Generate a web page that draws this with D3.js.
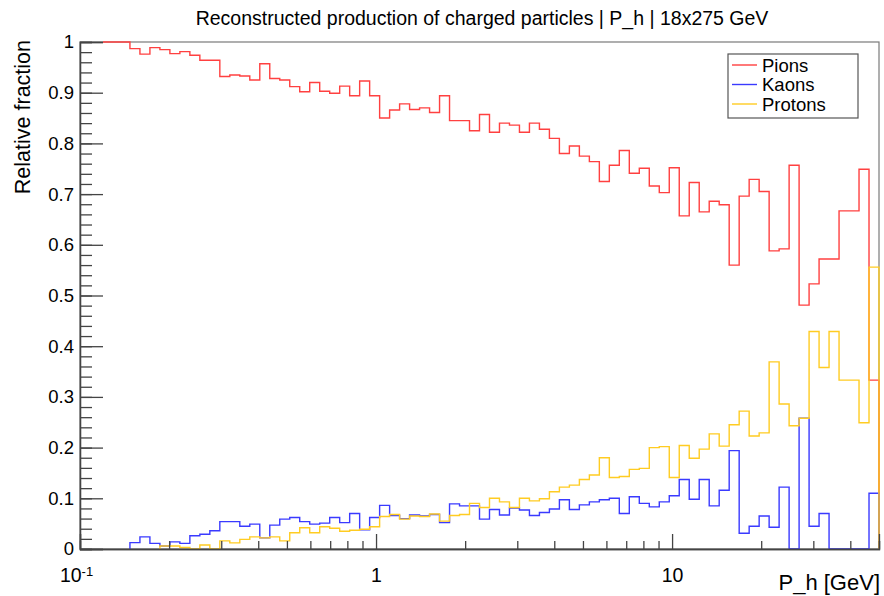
<!DOCTYPE html>
<html>
<head>
<meta charset="utf-8">
<script src="https://cdn.jsdelivr.net/npm/d3@7"></script>
<style>
  html, body { margin: 0; padding: 0; background: #fff; }
  svg { display: block; }
  text { font-family: "Liberation Sans", Arial, Helvetica, sans-serif; fill: #000; }
</style>
</head>
<body>
<svg id="chart" width="884" height="596"></svg>
<script>
// ---- Data (80 log-spaced bins from 0.1 to 50 GeV) ----
const nBins = 80;
const xMin = 0.1, xMax = 50;
const seriesNames = ["Pions", "Kaons", "Protons"];

const pions = [
  null, null, 1.000, 1.000, 1.000, 0.987, 0.976, 0.989, 0.985, 0.977,
  0.981, 0.974, 0.964, 0.964, 0.932, 0.935, 0.933, 0.925, 0.957, 0.928,
  0.925, 0.912, 0.902, 0.920, 0.903, 0.899, 0.913, 0.894, 0.923, 0.894,
  0.850, 0.866, 0.878, 0.867, 0.870, 0.861, 0.894, 0.845, 0.845, 0.825,
  0.857, 0.822, 0.840, 0.836, 0.822, 0.840, 0.828, 0.810, 0.780, 0.795,
  0.775, 0.764, 0.725, 0.757, 0.786, 0.741, 0.751, 0.716, 0.703, 0.752,
  0.657, 0.723, 0.665, 0.686, 0.679, 0.560, 0.696, 0.729, 0.705, 0.588,
  0.592, 0.757, 0.481, 0.523, 0.572, 0.572, 0.667, 0.667, 0.749, 0.333
];
const kaons = [
  null, null, null, null, null, 0.0125, 0.024, 0.011, 0.006, 0.014,
  0.011, 0.026, 0.029, 0.036, 0.054, 0.054, 0.045, 0.049, 0.022, 0.047,
  0.059, 0.062, 0.054, 0.049, 0.051, 0.062, 0.052, 0.070, 0.038, 0.062,
  0.086, 0.066, 0.060, 0.067, 0.065, 0.068, 0.052, 0.089, 0.085, 0.085,
  0.059, 0.078, 0.067, 0.081, 0.077, 0.066, 0.072, 0.079, 0.097, 0.078,
  0.087, 0.093, 0.097, 0.100, 0.070, 0.103, 0.090, 0.083, 0.093, 0.105,
  0.137, 0.098, 0.137, 0.085, 0.116, 0.194, 0.031, 0.045, 0.065, 0.043,
  0.122, 0.000, 0.258, 0.045, 0.070, 0.000, 0.000, 0.000, 0.000, 0.110
];
const protons = [
  null, null, null, null, null, null, null, null, 0.006, 0.006,
  0.003, 0.000, 0.008, 0.000, 0.016, 0.012, 0.019, 0.024, 0.022, 0.024,
  0.016, 0.032, 0.042, 0.032, 0.044, 0.041, 0.035, 0.037, 0.039, 0.044,
  0.064, 0.068, 0.059, 0.065, 0.064, 0.069, 0.055, 0.066, 0.068, 0.090,
  0.082, 0.100, 0.093, 0.082, 0.100, 0.095, 0.099, 0.113, 0.122, 0.126,
  0.137, 0.146, 0.180, 0.141, 0.143, 0.157, 0.159, 0.200, 0.202, 0.141,
  0.204, 0.179, 0.197, 0.227, 0.203, 0.245, 0.272, 0.223, 0.229, 0.369,
  0.286, 0.243, 0.258, 0.429, 0.358, 0.429, 0.333, 0.333, 0.249, 0.556
];

const yTicks = [0, 0.1, 0.2, 0.3, 0.4, 0.5, 0.6, 0.7, 0.8, 0.9, 1];
const yTickLabels = ["0", "0.1", "0.2", "0.3", "0.4", "0.5", "0.6", "0.7", "0.8", "0.9", "1"];
const xMajorTicks = [0.1, 1, 10];
const xMinorTicks = [0.2,0.3,0.4,0.5,0.6,0.7,0.8,0.9,2,3,4,5,6,7,8,9,20,30,40,50];

const titleText = "Reconstructed production of charged particles | P_h | 18x275 GeV";
const xTitle = "P_h [GeV]";
const yTitle = "Relative fraction";

// ---- Layout ----
const L = 80, R = 879, T = 42, B = 549;
const svg = d3.select("#chart");
const x = d3.scaleLog().domain([xMin, xMax]).range([L, R]);
const y = d3.scaleLinear().domain([0, 1]).range([B, T]);
const edges = d3.range(nBins + 1).map(k => xMin * Math.pow(xMax / xMin, k / nBins));

const series = [
  { name: "Pions", values: pions, color: "#ff4040", rise: false },
  { name: "Kaons", values: kaons, color: "#3a3aff", rise: true },
  { name: "Protons", values: protons, color: "#ffcc22", rise: true }
];

// frame (top/right borders)
svg.append("rect").attr("x", L).attr("y", T).attr("width", R - L).attr("height", B - T)
  .attr("fill", "none").attr("stroke", "#7a7a7a").attr("stroke-width", 1.2);

// histograms
function stepPath(vals, rise) {
  const first = vals.findIndex(v => v !== null);
  const p = d3.path();
  if (rise) { p.moveTo(x(edges[first]), y(0)); p.lineTo(x(edges[first]), y(vals[first])); }
  else p.moveTo(x(edges[first]) + 3, y(vals[first]));
  for (let i = first; i < nBins; i++) {
    if (i > first) p.lineTo(x(edges[i]), y(vals[i]));
    p.lineTo(x(edges[i + 1]), y(vals[i]));
  }
  p.lineTo(x(edges[nBins]), y(0));
  return p.toString();
}
series.forEach(s => {
  svg.append("path").attr("d", stepPath(s.values, s.rise))
    .attr("fill", "none").attr("stroke", s.color).attr("stroke-width", 1.4)
    .attr("stroke-linejoin", "miter");
});

// axes
const axisColor = "#444";
const yMinorTicks = d3.range(0, 1.0001, 0.02);
const gyMinor = svg.append("g").attr("transform", `translate(${L},0)`)
  .call(d3.axisLeft(y).tickValues(yMinorTicks).tickSize(-12).tickFormat(""));
const gy = svg.append("g").attr("transform", `translate(${L},0)`)
  .call(d3.axisLeft(y).tickValues(yTicks).tickSize(-23).tickPadding(6)
    .tickFormat((d, i) => yTickLabels[i]));
const gxMinor = svg.append("g").attr("transform", `translate(0,${B})`)
  .call(d3.axisBottom(x).tickValues(xMinorTicks).tickSize(-8).tickFormat(""));
const gx = svg.append("g").attr("transform", `translate(0,${B})`)
  .call(d3.axisBottom(x).tickValues(xMajorTicks).tickSize(-15).tickPadding(19)
    .tickFormat(d => d === 0.1 ? "" : d3.format("~g")(d)));
[gyMinor, gy, gxMinor, gx].forEach(g => {
  g.selectAll(".domain").attr("stroke", axisColor).attr("stroke-width", 1.3);
  g.selectAll(".tick line").attr("stroke", axisColor).attr("stroke-width", 1.3);
  g.selectAll("text").attr("font-family", "Liberation Sans, Arial, sans-serif").attr("fill", "#000");
});
gy.selectAll("text").attr("font-size", 18.5);
gx.selectAll("text").attr("font-size", 19.5);
// 10^-1 label
const t01 = gx.selectAll(".tick").filter(d => d === 0.1).select("text");
t01.text(null).attr("text-anchor", "middle").attr("dx", -4);
t01.append("tspan").text("10");
t01.append("tspan").text("-1").attr("font-size", 13).attr("dy", "-0.45em");

// titles
svg.append("text").attr("x", 482).attr("y", 25).attr("text-anchor", "middle")
  .attr("font-size", 19.5).text(titleText);
svg.append("text").attr("x", R + 1).attr("y", 590).attr("text-anchor", "end")
  .attr("font-size", 22).text(xTitle);
svg.append("text").attr("transform", `translate(30,${T - 2}) rotate(-90)`)
  .attr("text-anchor", "end").attr("font-size", 21.5).text(yTitle);

// legend
const lg = svg.append("g");
lg.append("rect").attr("x", 728).attr("y", 54).attr("width", 130).attr("height", 64)
  .attr("fill", "#fff").attr("stroke", "#555").attr("stroke-width", 1.2);
series.forEach((s, i) => {
  const cy = 65 + i * 19.5;
  lg.append("line").attr("x1", 732).attr("x2", 757).attr("y1", cy).attr("y2", cy)
    .attr("stroke", s.color).attr("stroke-width", 1.4);
  lg.append("text").attr("x", 762).attr("y", cy).attr("dy", "0.36em")
    .attr("font-size", 18.5).text(s.name);
});
</script>
</body>
</html>
